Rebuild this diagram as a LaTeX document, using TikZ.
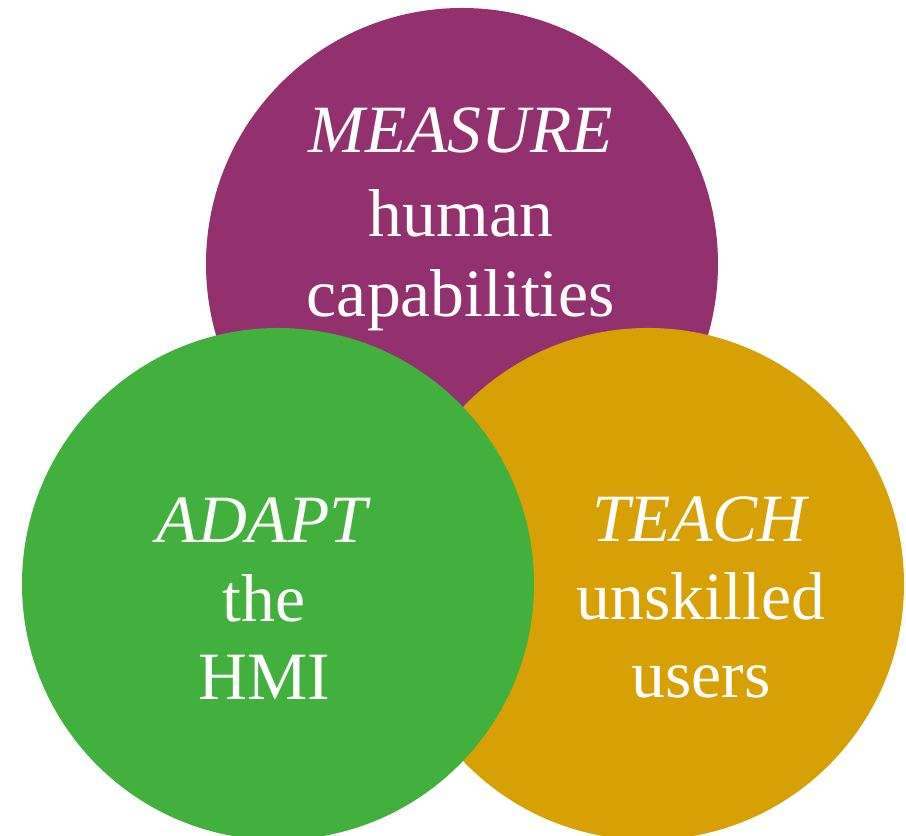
\documentclass[tikz,border=0pt]{standalone}
\usepackage{fontspec}
\setmainfont{Liberation Serif}
\usepackage{xcolor}

\definecolor{measurecol}{RGB}{147,49,110}
\definecolor{adaptcol}{RGB}{66,176,61}
\definecolor{teachcol}{RGB}{215,160,5}

\tikzset{
        blob/.style={circle, minimum size=10.24cm, inner sep=0pt},
        word/.style={text=white, anchor=base, font=\fontsize{38.5}{46}\selectfont}
}

\begin{document}
\begin{tikzpicture}
        \useasboundingbox (0,0) rectangle (18.12,16.72);
        % the three circles, green last so it sits on top
        \node[blob, fill=measurecol](measure) at (9.24,11.44) {};
        \node[blob, fill=teachcol](teach) at (12.96,5.04) {};
        \node[blob, fill=adaptcol](adapt) at (5.56,5.04) {};
        % labels
        \node[word](m1) at (9.22,13.66) {\textit{MEASURE}};
        \node[word](m2) at (9.22,11.98) {human};
        \node[word](m3) at (9.22,10.38) {capabilities};
        \node[word](a1) at (5.28,5.86) {\textit{ADAPT}};
        \node[word](a2) at (5.28,4.28) {the};
        \node[word](a3) at (5.28,2.72) {HMI};
        \node[word](t1) at (14.02,5.88) {\textit{TEACH}};
        \node[word](t2) at (14.02,4.32) {unskilled};
        \node[word](t3) at (14.02,2.76) {users};
\end{tikzpicture}
\end{document}
